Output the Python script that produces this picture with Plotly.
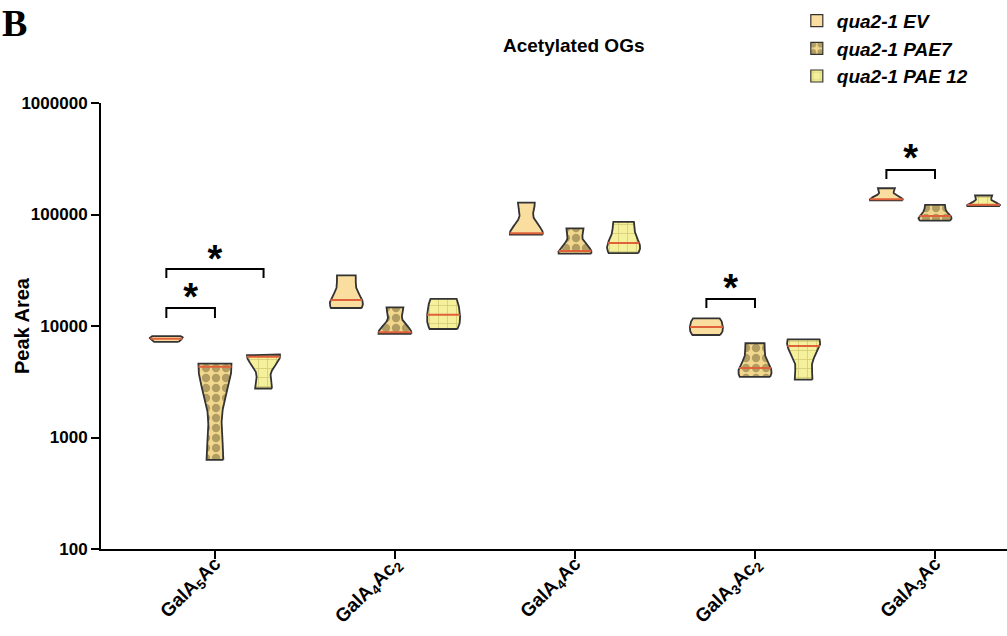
import numpy as np
import plotly.graph_objects as go

# Oligogalacturonide species on the x axis
categories = [
    "GalA<sub>5</sub>Ac",
    "GalA<sub>4</sub>Ac<sub>2</sub>",
    "GalA<sub>4</sub>Ac",
    "GalA<sub>3</sub>Ac<sub>2</sub>",
    "GalA<sub>3</sub>Ac",
]
series_names = ["qua2-1 EV", "qua2-1 PAE7", "qua2-1 PAE 12"]

# Peak areas per replicate, one inner list per category
ev_values = [
    [7200, 7700, 8100],
    [14500, 17100, 28500],
    [66000, 68000, 128000],
    [8300, 9800, 11700],
    [134000, 137000, 172000],
]
pae7_values = [
    [630, 4300, 4600],
    [8500, 8800, 14700],
    [44500, 47000, 75000],
    [3500, 4200, 7000],
    [88000, 97000, 122000],
]
pae12_values = [
    [2750, 5300, 5550],
    [9400, 12600, 17500],
    [45000, 55500, 86000],
    [3300, 6600, 7600],
    [119000, 122000, 148000],
]

y_tick_values = [100, 1000, 10000, 100000, 1000000]
y_tick_labels = ["100", "1000", "10000", "100000", "1000000"]

# Significance brackets: category, the two series compared, bar height, foot height, star height
sig_category = [0, 0, 3, 4]
sig_series_a = [0, 0, 0, 0]
sig_series_b = [1, 2, 1, 1]
sig_bar_y = [14500, 32400, 17500, 250700]
sig_foot_y = [11800, 26900, 14500, 208000]
sig_star_y = [16800, 37500, 20300, 300000]

all_values = [ev_values, pae7_values, pae12_values]

offsets = [-0.27, 0.0, 0.27]
half_width = 0.092
outline_color = "#333333"
median_color = "#e0623a"
font_family = "Liberation Sans, Arial, sans-serif"

fills = ["#f9de9f", "#f2d88e", "#f5f09c"]
patterns = [
    None,
    dict(shape=".", fgcolor="#6f5f34", bgcolor="#f2d88e", size=10, solidity=0.55),
    dict(shape="+", fgcolor="#aea245", bgcolor="#f5f09c", size=9, solidity=0.16),
]


def density(logs, grid):
    """Gaussian kernel density on log10 values (Silverman bandwidth)."""
    sd = logs.std(ddof=1)
    q1, q3 = np.percentile(logs, [25, 75])
    spread = min(sd, (q3 - q1) / 1.349) if q3 > q1 else sd
    bw = 1.059 * spread * len(logs) ** -0.2
    z = (np.asarray(grid)[:, None] - logs[None, :]) / bw
    return np.exp(-0.5 * z ** 2).sum(axis=1)


fig = go.Figure()

for s, series in enumerate(all_values):
    for i, vals in enumerate(series):
        logs = np.log10(np.asarray(vals, dtype=float))
        grid = np.linspace(logs.min(), logs.max(), 140)
        dens = density(logs, grid)
        peak = dens.max()
        w = half_width * dens / peak
        center = i + offsets[s]
        xs = np.concatenate([center + w, (center - w)[::-1], [center + w[0]]])
        ys = 10 ** np.concatenate([grid, grid[::-1], [grid[0]]])
        trace = dict(
            x=xs, y=ys, mode="lines", fill="toself",
            fillcolor=fills[s],
            line=dict(color=outline_color, width=1.8),
            showlegend=False, hoverinfo="skip",
        )
        if patterns[s] is not None:
            trace["fillpattern"] = patterns[s]
        fig.add_trace(go.Scatter(**trace))

        # median line clipped to the violin outline
        med = np.median(logs)
        wm = half_width * density(logs, [med])[0] / peak
        fig.add_trace(go.Scatter(
            x=[center - wm, center + wm], y=[10 ** med, 10 ** med],
            mode="lines", line=dict(color=median_color, width=2),
            showlegend=False, hoverinfo="skip",
        ))

# legend swatches
for s, name in enumerate(series_names):
    marker = dict(color=fills[s], line=dict(color=outline_color, width=1.2))
    if patterns[s] is not None:
        marker["pattern"] = patterns[s]
    fig.add_trace(go.Bar(x=[None], y=[None], name=name, marker=marker))

# significance brackets and stars
for k in range(len(sig_category)):
    xa = sig_category[k] + offsets[sig_series_a[k]]
    xb = sig_category[k] + offsets[sig_series_b[k]]
    fig.add_trace(go.Scatter(
        x=[xa, xa, xb, xb],
        y=[sig_foot_y[k], sig_bar_y[k], sig_bar_y[k], sig_foot_y[k]],
        mode="lines", line=dict(color="black", width=2),
        showlegend=False, hoverinfo="skip",
    ))
    fig.add_trace(go.Scatter(
        x=[(xa + xb) / 2], y=[sig_star_y[k]], mode="text", text=["*"],
        textfont=dict(family=font_family, size=38, color="black", weight="bold"),
        showlegend=False, hoverinfo="skip",
    ))

fig.update_layout(
    width=1007, height=636,
    margin=dict(l=101, r=0, t=103, b=87),
    paper_bgcolor="white", plot_bgcolor="white",
    font=dict(family=font_family, color="black"),
    showlegend=True,
    legend=dict(
        x=0.768, y=1.227, xanchor="left", yanchor="top",
        font=dict(family=font_family, size=19, weight="bold", style="italic", color="black"),
        bgcolor="rgba(0,0,0,0)", tracegroupgap=0,
    ),
    xaxis=dict(
        range=[-0.633, 4.4], tickmode="array",
        tickvals=list(range(len(categories))), ticktext=categories,
        tickangle=-45, ticks="outside", ticklen=8, tickwidth=2, tickcolor="black",
        showline=True, linecolor="black", linewidth=2,
        showgrid=False, zeroline=False, automargin=False,
        ticklabelstandoff=-14,
        tickfont=dict(family=font_family, size=19, weight="bold", color="black"),
    ),
    yaxis=dict(
        type="log", range=[2, 6], tickmode="array",
        tickvals=y_tick_values, ticktext=y_tick_labels,
        ticks="outside", ticklen=8, tickwidth=2, tickcolor="black",
        showline=True, linecolor="black", linewidth=2,
        showgrid=False, zeroline=False, automargin=False,
        tickfont=dict(family=font_family, size=17, weight="bold", color="black"),
    ),
    annotations=[
        dict(text="<b>Acetylated OGs</b>", xref="paper", yref="paper",
             x=0.522, y=1.13, showarrow=False, xanchor="center", yanchor="middle",
             font=dict(family=font_family, size=19, color="black")),
        dict(text="<b>Peak Area</b>", xref="paper", yref="paper",
             x=(22 - 101) / 906, y=0.5, textangle=-90, showarrow=False,
             xanchor="center", yanchor="middle",
             font=dict(family=font_family, size=20, color="black")),
        dict(text="<b>B</b>", xref="paper", yref="paper",
             x=-101 / 906, y=1.0, xanchor="left", yanchor="top",
             xshift=0, yshift=103, showarrow=False,
             font=dict(family="Liberation Serif, Times New Roman, serif", size=38, color="black")),
    ],
)

fig.write_html("out.html")
